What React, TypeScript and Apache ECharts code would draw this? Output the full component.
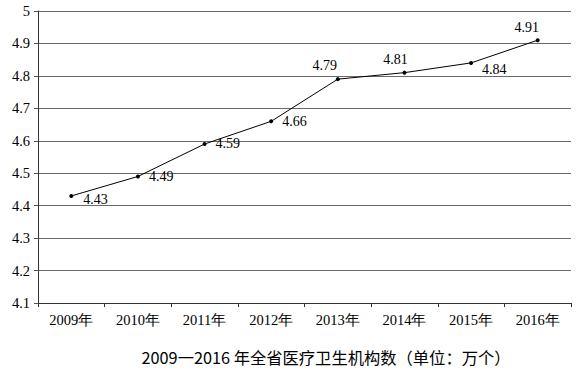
import React, { useEffect, useRef } from "react";
import * as echarts from "echarts";

const categories = ["2009年", "2010年", "2011年", "2012年", "2013年", "2014年", "2015年", "2016年"];
const values = [4.43, 4.49, 4.59, 4.66, 4.79, 4.81, 4.84, 4.91];
const labelPos = ["right", "right", "right", "right", "top", "top", "right", "top"];
const labelOffset = [[1, 4], [0, 0], [0, -1], [0, 0], [-13, 4], [-9, 5], [0, 7], [-11, 5]];
const title = "2009一2016 年全省医疗卫生机构数（单位：万个）";

export default function App() {
  const ref = useRef<HTMLDivElement>(null);
  useEffect(() => {
    if (!ref.current) return;
    const chart = echarts.init(ref.current, null, { renderer: "svg" });
    const serif = "Liberation Serif";
    chart.setOption({
      animation: false,
      backgroundColor: "#ffffff",
      textStyle: { fontFamily: serif },
      title: {
        text: title,
        left: 321,
        textAlign: "center",
        top: 344,
        textStyle: { fontFamily: "Noto Sans CJK SC", fontSize: 16.3, fontWeight: "normal", color: "#000" },
      },
      grid: { left: 38, right: 14, top: 11, bottom: 67 },
      xAxis: {
        type: "category",
        data: categories,
        boundaryGap: true,
        axisLine: { lineStyle: { color: "#333", width: 1 } },
        axisTick: { show: true, length: 4, inside: false, lineStyle: { color: "#333" } },
        axisLabel: { fontFamily: serif, fontSize: 14.5, color: "#000", margin: 9 },
      },
      yAxis: {
        type: "value",
        min: 4.1,
        max: 5,
        interval: 0.1,
        axisLine: { show: true, lineStyle: { color: "#333" } },
        axisTick: { show: true, length: 4, lineStyle: { color: "#555" } },
        axisLabel: {
          fontFamily: serif,
          fontSize: 14.5,
          color: "#000",
          margin: 8,
          formatter: (v: number) => String(Math.round(v * 10) / 10),
        },
        splitLine: { show: true, lineStyle: { color: "#6a6a6a", width: 1 } },
      },
      series: [
        {
          type: "line",
          data: values.map((v, i) => ({
            value: v,
            label: { position: labelPos[i], offset: labelOffset[i], fontFamily: serif },
          })),
          symbol: "circle",
          symbolSize: 4,
          itemStyle: { color: "#000" },
          lineStyle: { color: "#000", width: 1 },
          label: {
            show: true,
            fontFamily: serif,
            fontSize: 14,
            color: "#000",
            distance: 9,
          },
        },
      ],
    });
    return () => chart.dispose();
  }, []);
  return <div ref={ref} style={{ width: 585, height: 370, position: "absolute", left: 0, top: 0 }} />;
}
